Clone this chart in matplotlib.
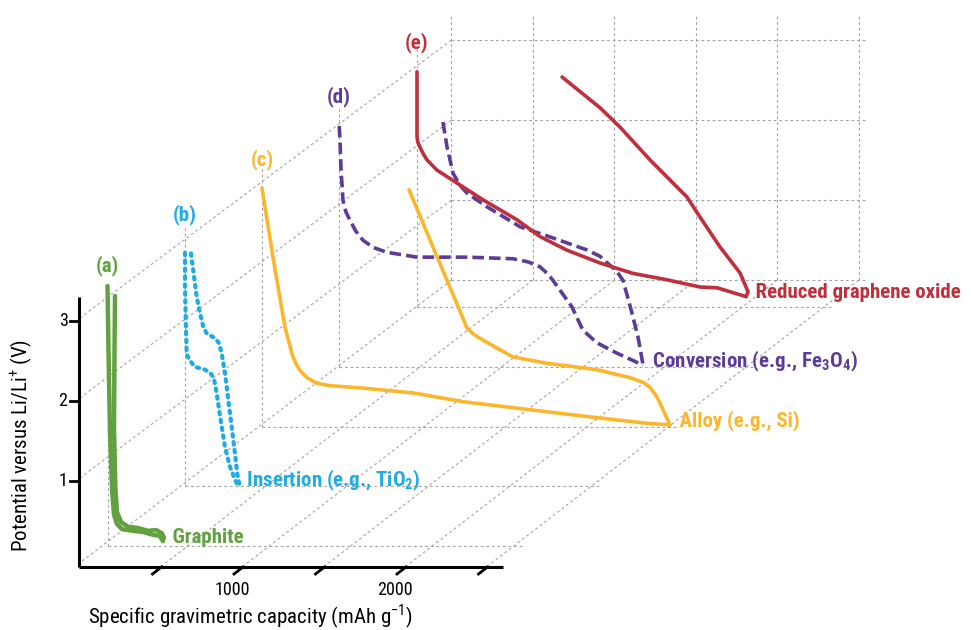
import numpy as np
import matplotlib.pyplot as plt
import matplotlib.transforms as mtransforms
from matplotlib import font_manager

# pick a condensed face if one is installed
names = {f.name for f in font_manager.fontManager.ttflist}
font = 'DejaVu Sans'
for fam in ['Liberation Sans Narrow', 'Roboto Condensed', 'Open Sans Condensed', 'Liberation Sans']:
    if fam in names:
        font = fam
        break
plt.rcParams['font.family'] = [font, 'DejaVu Sans']
plt.rcParams['mathtext.fontset'] = 'custom'
plt.rcParams['mathtext.rm'] = font
plt.rcParams['mathtext.bf'] = font + ':bold'

# ---- data (capacity in mAh/g, potential in V) ----
graphite1_cap = [0, 6, 15, 28, 40, 58, 89, 156, 218, 279, 322, 340]
graphite1_v = [3.25, 2.45, 1.45, 0.70, 0.39, 0.275, 0.21, 0.19, 0.175, 0.14, 0.125, 0.06]
graphite2_cap = [46, 43, 40, 49, 58, 83, 126, 187, 248, 298, 334, 347]
graphite2_v = [3.125, 2.45, 1.45, 0.70, 0.425, 0.30, 0.24, 0.225, 0.19, 0.20, 0.16, 0.10]

tio2_dis_cap = [1.5, 1.5, 6, 12, 28, 63, 112, 155, 179, 196, 220, 247, 278, 309, 323]
tio2_dis_v = [2.92, 2.49, 2.08, 1.65, 1.58, 1.49, 1.47, 1.42, 1.35, 1.16, 0.83, 0.49, 0.24, 0.08, 0.02]
tio2_ch_cap = [38, 52, 73, 94, 114, 135, 186, 210, 227, 247, 267, 288, 308, 322, 335]
tio2_ch_v = [2.91, 2.70, 2.37, 2.16, 1.99, 1.91, 1.85, 1.79, 1.66, 1.41, 1.08, 0.74, 0.41, 0.16, 0.02]

si_dis_cap = [0, 67, 141, 170, 190, 212, 233, 276, 337, 417, 620, 926, 1233, 1644, 2055, 2362, 2503]
si_dis_v = [2.98, 2.12, 1.24, 1.02, 0.87, 0.77, 0.70, 0.61, 0.54, 0.51, 0.48, 0.42, 0.31, 0.21, 0.11, 0.04, 0.02]
si_ch_cap = [902, 1031, 1153, 1258, 1300, 1356, 1450, 1540, 1748, 2055, 2258, 2340, 2380, 2420, 2442, 2503]
si_ch_v = [2.96, 2.33, 1.74, 1.23, 1.15, 1.08, 0.97, 0.87, 0.79, 0.71, 0.61, 0.55, 0.49, 0.38, 0.29, 0.02]

fe_dis_cap = [0, 6, 11, 23, 40, 66, 100, 146, 210, 293, 477, 784, 1066, 1160, 1231, 1280, 1311, 1427, 1494, 1580, 1703, 1864]
fe_dis_v = [3.01, 2.75, 2.46, 2.08, 1.94, 1.83, 1.70, 1.58, 1.49, 1.43, 1.37, 1.37, 1.35, 1.31, 1.25, 1.16, 1.08, 0.75, 0.46, 0.30, 0.17, 0.02]
fe_ch_cap = [636, 661, 698, 740, 784, 906, 1109, 1311, 1520, 1600, 1643, 1700, 1741, 1796, 1833, 1864]
fe_ch_v = [3.06, 2.75, 2.42, 2.27, 2.17, 2.00, 1.75, 1.61, 1.46, 1.38, 1.30, 1.20, 1.08, 0.67, 0.37, 0.02]

rgo_dis_cap = [3, 3, 8, 21, 40, 64, 126, 248, 408, 617, 758, 923, 1126, 1328, 1537, 1739, 1844, 2022]
rgo_dis_v = [2.94, 2.13, 2.06, 2.00, 1.92, 1.84, 1.71, 1.55, 1.34, 1.09, 0.88, 0.71, 0.55, 0.42, 0.34, 0.25, 0.24, 0.13]
rgo_ch_cap = [893, 1126, 1248, 1432, 1659, 1739, 1862, 1985, 2034, 2022]
rgo_ch_v = [2.875, 2.49, 2.25, 1.84, 1.375, 1.125, 0.75, 0.425, 0.19, 0.13]

panel_tags = ['(a)', '(b)', '(c)', '(d)', '(e)']
tag_v = [3.5, 3.4, 3.33, 3.37, 3.31]
end_labels = ['Graphite', 'Insertion (e.g., TiO$_\\mathbf{2}$)', 'Alloy (e.g., Si)',
              'Conversion (e.g., Fe$_\\mathbf{3}$O$_\\mathbf{4}$)', 'Reduced graphene oxide']
colors = ['#62a13f', '#1fabe3', '#fbb62b', '#5c3c98', '#bf2f3c']

y_ticks = [1, 2, 3]
x_ticks = [500, 1000, 1500, 2000, 2500]
x_ticklabels = ['', '1000', '', '2000', '']
grid_caps = [0, 500, 1000, 1500, 2000, 2500]
grid_volts = [0, 1, 2, 3]

# ---- oblique layout (pixels) ----
KX, KY = 81.5 / 500, 80.0
fig = plt.figure(figsize=(9.71, 6.30), dpi=100)
ax = fig.add_axes([0, 0, 1, 1])
ax.set_xlim(0, 971)
ax.set_ylim(630, 0)
ax.axis('off')


def plane(k):
    # each curve sits in its own plane shifted back along the depth diagonal
    return mtransforms.Affine2D().scale(KX, -KY).translate(107.5 + 77.25 * k, 546 - 59.75 * k)


front = mtransforms.Affine2D().scale(KX, -KY).translate(79, 561)
back = plane(4.45)
gkw = dict(color='#a3a3a3', lw=0.8, ls=(0, (2.5, 2.5)), zorder=1)

# back wall grid
for v in grid_volts:
    ax.plot([0, 2550], [v, v], transform=back + ax.transData, **gkw)
for c in grid_caps:
    ax.plot([c, c], [0, 3.3], transform=back + ax.transData, **gkw)

# depth diagonals
for c in grid_caps:
    p0 = back.transform((c, 0))
    p1 = front.transform((c, -0.075 if c > 0 else -0.03))
    ax.plot([p0[0], p1[0]], [p0[1], p1[1]], **gkw)
for v in y_ticks:
    p0 = back.transform((0, v))
    p1 = front.transform((0, v + 0.03))
    ax.plot([p0[0], p1[0]], [p0[1], p1[1]], **gkw)

# per-plane floor and wall lines
for k in range(5):
    t = plane(k) + ax.transData
    ax.plot([0, 2550], [0, 0], transform=t, **gkw)
    ax.plot([0, 0], [0, 3.25], transform=t, **gkw)

# curves
curves = [
    [(graphite1_cap, graphite1_v), (graphite2_cap, graphite2_v)],
    [(tio2_dis_cap, tio2_dis_v), (tio2_ch_cap, tio2_ch_v)],
    [(si_dis_cap, si_dis_v), (si_ch_cap, si_ch_v)],
    [(fe_dis_cap, fe_dis_v), (fe_ch_cap, fe_ch_v)],
    [(rgo_dis_cap, rgo_dis_v), (rgo_ch_cap, rgo_ch_v)],
]
styles = [
    dict(lw=3.2, ls='-'),
    dict(lw=3.0, ls=(0, (0.6, 1.3)), dash_capstyle='round'),
    dict(lw=2.6, ls='-'),
    dict(lw=2.6, ls=(0, (3.2, 1.4))),
    dict(lw=2.6, ls='-'),
]
for k in range(5):
    t = plane(k) + ax.transData
    for cap, v in curves[k]:
        ax.plot(cap, v, color=colors[k], transform=t, solid_capstyle='round',
                solid_joinstyle='round', zorder=3 + k * 0.1, **styles[k])
    ax.text(0, tag_v[k], panel_tags[k], transform=t, color=colors[k], fontsize=15,
            fontweight='bold', ha='center', va='center')
    end_cap = curves[k][0][0][-1]
    end_v = curves[k][0][1][-1]
    ax.text(end_cap, end_v + 0.05, '  ' + end_labels[k], transform=t, color=colors[k],
            fontsize=15, fontweight='bold', ha='left', va='center')

# front axes
ft = front + ax.transData
ax.plot([0, 0], [-0.075, 3.3], color='black', lw=2.2, transform=ft, solid_capstyle='butt', zorder=5)
ax.plot([0, 2600], [-0.075, -0.075], color='black', lw=2.2, transform=ft, solid_capstyle='butt', zorder=5)
for v in y_ticks:
    ax.plot([-55, 0], [v, v], color='black', lw=2.0, transform=ft, zorder=5)
    ax.text(-70, v, str(v), transform=ft, fontsize=13, ha='right', va='center')
for c, lab in zip(x_ticks, x_ticklabels):
    p = front.transform((c, -0.075))
    ax.plot([p[0] + 1, p[0] - 8], [p[1], p[1] + 7], color='black', lw=2.0, zorder=5)
    if lab:
        ax.text(p[0] - 10, p[1] + 23, lab, fontsize=13, ha='center', va='center')

ax.text(250, 617, 'Specific gravimetric capacity (mAh g$^{-1}$)', fontsize=15, ha='center', va='center')
ax.text(22, 445, 'Potential versus Li/Li$^{+}$ (V)', fontsize=15, rotation=90, ha='center', va='center')

fig.savefig('out.png', dpi=100)
